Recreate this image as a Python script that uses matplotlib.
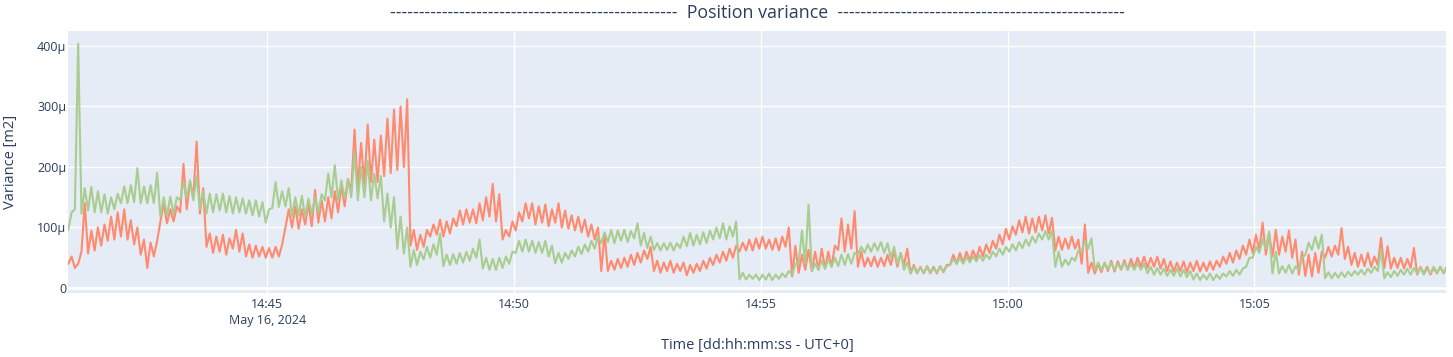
import numpy as np
import matplotlib
matplotlib.use("Agg")
import matplotlib.pyplot as plt
from matplotlib.ticker import FuncFormatter

# one 8 s bin per entry, starting 14:40:58 (UTC); each bin has a low and a
# high reading (the series is very noisy, so it shows as a band)
t_start = np.datetime64("2024-05-16T14:40:58")
t_end = np.datetime64("2024-05-16T15:08:53")
bin_s = 8

# variance values in micro m2
red_lo = [
    40, 33, 60, 57, 62, 70, 78, 80, 85, 80,
    72, 55, 33, 52, 110, 107, 110, 125, 130, 150,
    123, 68, 58, 60, 55, 65, 60, 52, 50, 52,
    50, 50, 52, 100, 100, 98, 105, 102, 108, 110,
    115, 125, 135, 160, 165, 170, 175, 175, 185, 190,
    195, 200, 70, 63, 68, 85, 88, 85, 90, 102,
    105, 108, 107, 112, 118, 110, 80, 85, 95, 110,
    115, 105, 108, 102, 108, 100, 98, 95, 92, 85,
    80, 28, 28, 30, 33, 35, 38, 42, 48, 28,
    25, 28, 25, 28, 21, 25, 28, 32, 38, 42,
    45, 50, 60, 62, 62, 65, 65, 63, 62, 68,
    19, 25, 30, 28, 30, 32, 35, 63, 60, 65,
    35, 35, 36, 35, 36, 38, 35, 38, 24, 25,
    24, 25, 24, 26, 38, 40, 42, 45, 48, 52,
    58, 65, 72, 80, 88, 92, 90, 92, 95, 90,
    62, 63, 65, 65, 40, 25, 24, 26, 28, 27,
    30, 30, 33, 35, 33, 35, 32, 28, 27, 28,
    26, 28, 27, 28, 30, 35, 40, 42, 48, 55,
    58, 62, 55, 52, 55, 60, 50, 22, 20, 19,
    25, 50, 52, 55, 48, 38, 35, 36, 35, 38,
    33, 32, 33, 32, 33, 22, 24, 22, 24, 25,
]
red_hi = [
    52, 40, 140, 95, 100, 105, 118, 125, 130, 112,
    100, 80, 75, 78, 140, 130, 135, 205, 175, 242,
    165, 90, 85, 88, 82, 96, 90, 72, 70, 68,
    66, 68, 72, 130, 135, 130, 140, 162, 145, 150,
    160, 170, 180, 262, 240, 270, 245, 252, 280, 295,
    300, 312, 96, 88, 96, 105, 113, 110, 115, 128,
    130, 130, 140, 150, 172, 155, 96, 110, 125, 140,
    140, 135, 138, 130, 140, 128, 120, 118, 113, 105,
    100, 90, 45, 48, 50, 55, 58, 62, 68, 45,
    42, 45, 40, 42, 38, 40, 45, 50, 55, 60,
    65, 70, 75, 80, 82, 85, 80, 82, 85, 100,
    70, 55, 63, 60, 65, 60, 70, 115, 105, 127,
    60, 50, 52, 50, 55, 62, 58, 65, 38, 35,
    36, 35, 36, 38, 55, 58, 60, 62, 68, 72,
    78, 88, 98, 102, 112, 118, 115, 118, 120, 116,
    85, 82, 85, 80, 105, 42, 40, 42, 45, 44,
    46, 48, 50, 52, 50, 52, 48, 44, 42, 44,
    42, 45, 42, 44, 45, 52, 58, 62, 70, 80,
    88, 108, 90, 96, 85, 95, 80, 60, 55, 58,
    60, 68, 70, 99, 68, 58, 55, 58, 52, 83,
    69, 50, 50, 48, 66, 35, 35, 33, 35, 35,
]

green_lo = [
    96, 130, 123, 128, 125, 125, 123, 130, 140, 140,
    142, 140, 140, 140, 118, 120, 122, 145, 148, 145,
    130, 123, 125, 128, 125, 123, 125, 123, 120, 118,
    108, 132, 134, 135, 118, 120, 118, 122, 125, 145,
    150, 145, 148, 150, 145, 150, 145, 148, 110, 100,
    65, 57, 35, 38, 47, 50, 55, 36, 38, 40,
    42, 45, 50, 32, 30, 30, 33, 40, 58, 60,
    60, 58, 58, 52, 41, 42, 48, 52, 56, 60,
    65, 74, 76, 74, 78, 76, 82, 70, 66, 63,
    62, 63, 62, 66, 69, 70, 72, 74, 80, 82,
    80, 85, 14, 14, 15, 13, 14, 13, 15, 18,
    22, 40, 40, 28, 30, 32, 35, 36, 38, 40,
    55, 58, 60, 62, 58, 50, 40, 30, 24, 24,
    25, 24, 26, 27, 38, 40, 40, 42, 44, 45,
    48, 52, 55, 60, 62, 66, 70, 75, 80, 80,
    35, 35, 38, 45, 60, 65, 30, 30, 31, 30,
    31, 30, 30, 30, 24, 22, 22, 20, 20, 19,
    18, 14, 13, 14, 13, 15, 19, 20, 22, 35,
    50, 58, 65, 24, 24, 25, 24, 30, 55, 63,
    65, 16, 16, 17, 18, 20, 22, 22, 25, 28,
    16, 18, 20, 22, 22, 24, 22, 24, 25, 24,
]
green_hi = [
    125, 404, 165, 167, 160, 155, 150, 156, 168, 170,
    198, 168, 170, 190, 150, 151, 150, 175, 178, 185,
    160, 156, 155, 156, 152, 150, 148, 145, 145, 142,
    130, 175, 160, 165, 150, 152, 148, 150, 155, 189,
    203, 178, 180, 225, 200, 210, 189, 185, 156, 150,
    118, 100, 63, 60, 68, 72, 90, 55, 56, 58,
    60, 65, 80, 50, 48, 50, 52, 60, 78, 80,
    78, 76, 78, 70, 58, 58, 62, 68, 72, 78,
    85, 92, 96, 95, 96, 94, 107, 91, 85, 74,
    74, 75, 74, 85, 91, 88, 92, 95, 100, 107,
    102, 110, 25, 22, 22, 22, 24, 22, 24, 28,
    40, 95, 138, 40, 45, 47, 50, 55, 56, 58,
    68, 72, 74, 76, 74, 68, 58, 42, 35, 34,
    35, 33, 35, 36, 48, 50, 52, 52, 54, 55,
    60, 65, 68, 72, 76, 80, 85, 90, 94, 95,
    60, 47, 50, 62, 78, 82, 42, 41, 42, 40,
    42, 40, 41, 40, 35, 33, 32, 30, 32, 30,
    28, 24, 22, 24, 22, 24, 28, 30, 32, 50,
    68, 80, 93, 60, 36, 38, 36, 50, 75, 85,
    88, 26, 25, 26, 27, 28, 30, 32, 35, 63,
    26, 28, 30, 32, 33, 34, 32, 35, 35, 33,
]

tick_times = ["14:45", "14:50", "14:55", "15:00", "15:05"]
tick_date = "May 16, 2024"
y_ticks = [0, 100, 200, 300, 400]

title_text = "-" * 50 + "  Position variance  " + "-" * 50
x_title = "Time [dd:hh:mm:ss - UTC+0]"
y_title = "Variance [m2]"

txt = "#2a3f5f"
plt.rcParams["font.family"] = ["Open Sans", "DejaVu Sans"]


def band_series(lo, hi):
    # low reading at the start of each bin, high reading half a bin later
    n = len(lo)
    t_lo = t_start + np.arange(n) * np.timedelta64(bin_s, "s")
    t_hi = t_lo + np.timedelta64(bin_s // 2, "s")
    t = np.empty(2 * n, dtype=t_lo.dtype)
    v = np.empty(2 * n)
    t[0::2], t[1::2] = t_lo, t_hi
    v[0::2], v[1::2] = lo, hi
    return t, v * 1e-6


fig = plt.figure(figsize=(14.53, 3.57), dpi=100)
ax = fig.add_axes([68.3 / 1453, 1 - 293 / 357, 1377.7 / 1453, 262 / 357])
ax.set_facecolor("#E5ECF6")

t, v = band_series(red_lo, red_hi)
ax.plot(t, v, color="#FF8A6E", lw=1.5)
t, v = band_series(green_lo, green_hi)
ax.plot(t, v, color="#A9CC8F", lw=1.5)

ax.set_xlim(t_start, t_end)
ax.set_ylim(-8.3e-6, 424.8e-6)

xt = [np.datetime64("2024-05-16T" + s) for s in tick_times]
labels = [tick_times[0] + "\n" + tick_date] + tick_times[1:]
ax.set_xticks(xt)
ax.set_xticklabels(labels, linespacing=1.35)
ax.set_yticks([y * 1e-6 for y in y_ticks])
ax.yaxis.set_major_formatter(FuncFormatter(
    lambda y, p: "0" if abs(y) < 1e-9 else "%dμ" % round(y * 1e6)))

ax.grid(True, color="white", lw=1)
ax.set_axisbelow(True)
ax.axhline(0, color="white", lw=2, zorder=1)
for s in ax.spines.values():
    s.set_visible(False)
ax.tick_params(length=0, labelsize=9, labelcolor=txt)
ax.tick_params(axis="x", pad=3.5)
ax.tick_params(axis="y", pad=1.5)

fig.text(757 / 1453, 1 - 13 / 357, title_text, ha="center", va="center",
         fontsize=12.75, color=txt)
fig.text(757 / 1453, 1 - 345 / 357, x_title, ha="center", va="center",
         fontsize=10.5, color=txt)
fig.text(11 / 1453, 1 - 162 / 357, y_title, ha="center", va="center",
         rotation=90, fontsize=10.5, color=txt)

fig.savefig("out.png", dpi=100)
